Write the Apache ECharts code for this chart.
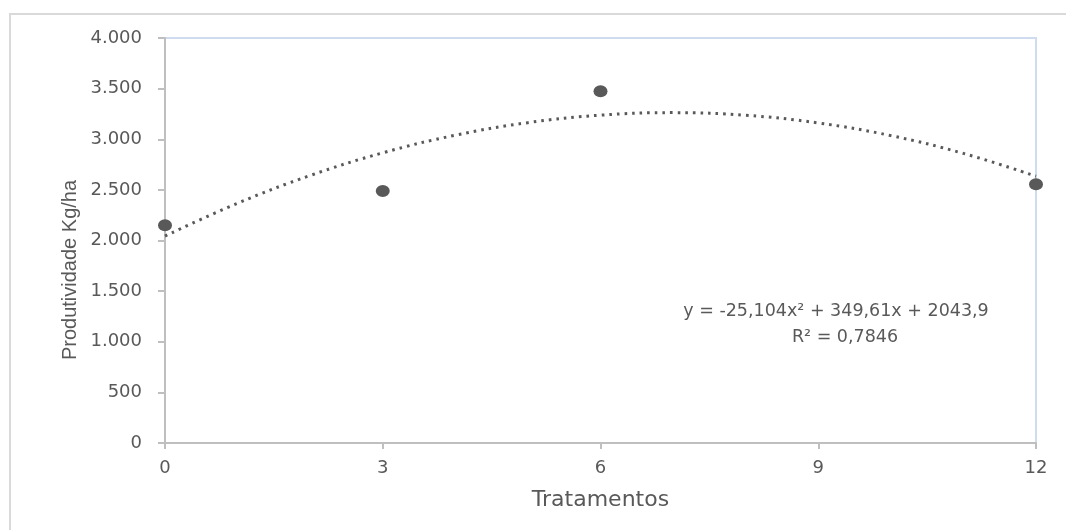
<!DOCTYPE html>
<html>
<head>
<meta charset="utf-8">
<script src="https://cdn.jsdelivr.net/npm/echarts@6/dist/echarts.min.js"></script>
<style>
html,body{margin:0;padding:0;background:#fff;}
#chart{width:1066px;height:530px;}
</style>
</head>
<body>
<div id="chart"></div>
<script>
// Observed data points
var treatments = [0, 3, 6, 12];
var productivity = [2150, 2490, 3475, 2555];
// Trend line
var trendX = [0, 1, 2, 3, 4, 5, 6, 7, 8, 9, 10, 11, 12];
var trendY = [2044, 2368, 2642, 2866, 3040, 3164, 3238, 3263, 3237, 3161, 3036, 2860, 2635];
var yTicks = [0, 500, 1000, 1500, 2000, 2500, 3000, 3500, 4000];
var xTicks = [0, 3, 6, 9, 12];
var equationText = 'y = -25,104x² + 349,61x + 2043,9';
var r2Text = 'R² = 0,7846';
var xTitle = 'Tratamentos';
var yTitle = 'Produtividade Kg/ha';

var txt = '#595959';
var chart = echarts.init(document.getElementById('chart'));

function fmtThousands(v) {
  return String(v).replace(/\B(?=(\d{3})+(?!\d))/g, '.');
}

var scatterData = treatments.map(function (x, i) { return [x, productivity[i]]; });
var trendData = trendX.map(function (x, i) { return [x, trendY[i]]; });

chart.setOption({
  backgroundColor: '#ffffff',
  animation: false,
  grid: {
    left: 165, right: 30, top: 38, bottom: 87,
    show: true, borderColor: '#cfdbee', borderWidth: 2, backgroundColor: 'transparent'
  },
  xAxis: {
    type: 'value', min: xTicks[0], max: xTicks[xTicks.length - 1], interval: 3,
    name: xTitle, nameLocation: 'middle', nameGap: 46,
    nameTextStyle: { color: txt, fontFamily: 'DejaVu Sans', fontSize: 22 },
    axisLine: { show: true, onZero: false, lineStyle: { color: '#bfbfbf', width: 2 } },
    axisTick: { show: true, length: 6, lineStyle: { color: '#bfbfbf', width: 2 } },
    axisLabel: { color: txt, fontFamily: 'DejaVu Sans', fontSize: 18, margin: 16 },
    splitLine: { show: false }
  },
  yAxis: {
    type: 'value', min: yTicks[0], max: yTicks[yTicks.length - 1], interval: 500,
    axisLine: { show: true, onZero: false, lineStyle: { color: '#bfbfbf', width: 2 } },
    axisTick: { show: true, length: 7, lineStyle: { color: '#bfbfbf', width: 2 } },
    axisLabel: { color: txt, fontFamily: 'DejaVu Sans', fontSize: 18, margin: 23, formatter: fmtThousands },
    splitLine: { show: false }
  },
  graphic: [
    {
      type: 'rect', silent: true, z: -10,
      shape: { x: 10, y: 14, width: 1100, height: 600 },
      style: { fill: 'none', stroke: '#d9d9d9', lineWidth: 2 }
    },
    {
      type: 'text', silent: true,
      x: 70, y: 270, rotation: Math.PI / 2,
      style: { text: yTitle, fill: txt, font: '20px "Liberation Sans"', textAlign: 'center', textVerticalAlign: 'middle' }
    },
    {
      type: 'text', silent: true,
      x: 836, y: 311,
      style: { text: equationText, fill: txt, font: '17.5px "DejaVu Sans"', textAlign: 'center', textVerticalAlign: 'middle' }
    },
    {
      type: 'text', silent: true,
      x: 845, y: 337,
      style: { text: r2Text, fill: txt, font: '17.5px "DejaVu Sans"', textAlign: 'center', textVerticalAlign: 'middle' }
    }
  ],
  series: [
    {
      type: 'line', data: trendData, smooth: 0.4, showSymbol: false, symbol: 'none',
      lineStyle: { color: '#595959', width: 3, type: [2.6, 5] }, z: 2
    },
    {
      type: 'scatter', data: scatterData, symbol: 'circle', symbolSize: [14, 12],
      itemStyle: { color: '#595959', opacity: 1 }, z: 3
    }
  ]
});
</script>
</body>
</html>
